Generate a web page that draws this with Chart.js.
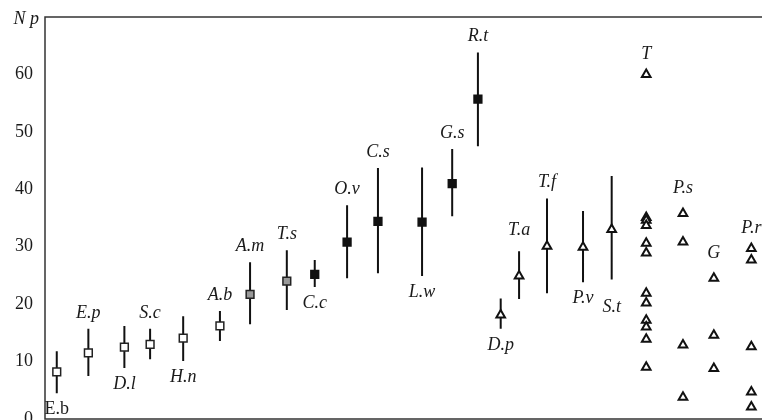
<!DOCTYPE html>
<html>
<head>
<meta charset="utf-8">
<script src="https://cdn.jsdelivr.net/npm/chart.js@4/dist/chart.umd.min.js"></script>
<style>
  html, body { margin: 0; padding: 0; background: #fff; overflow: hidden; width: 762px; height: 420px; }
  #chart { display: block; }
</style>
</head>
<body>
<canvas id="chart" width="800" height="440"></canvas>
<script>
// groups, their position along the (unlabelled) x axis
const groups = ['E.b', 'E.p', 'D.l', 'S.c', 'H.n', 'A.b', 'A.m', 'T.s', 'C.c', 'O.v',
  'C.s', 'L.w', 'G.s', 'R.t', 'D.p', 'T.a', 'T.f', 'P.v', 'S.t', 'T', 'P.s', 'G', 'P.r'];
const groupPos = [1.6, 5.9, 10.8, 14.3, 18.8, 23.8, 27.9, 32.9, 36.7, 41.1,
  45.3, 51.3, 55.4, 58.9, 62.0, 64.5, 68.3, 73.2, 77.1, 81.8, 86.8, 91.0, 96.1];

// mean and range for the first 19 groups
const meanNp = [8.2, 11.5, 12.5, 13.0, 14.1, 16.2, 21.7, 24.0, 25.2, 30.8,
  34.4, 34.3, 41.0, 55.7, 18.1, 24.9, 30.1, 29.9, 33.0];
const lowNp = [4.5, 7.5, 8.9, 10.4, 10.1, 13.6, 16.5, 19.0, 23.0, 24.5,
  25.4, 24.9, 35.3, 47.5, 15.7, 20.9, 21.9, 23.8, 24.3];
const highNp = [11.8, 15.7, 16.2, 15.7, 17.9, 18.8, 27.3, 29.4, 27.7, 37.2,
  43.7, 43.8, 47.0, 63.8, 21.0, 29.2, 38.4, 36.2, 42.3];

// single values for the last four groups
const tNp = [60, 35.1, 34.6, 33.7, 30.6, 28.9, 21.9, 20.2, 17.2, 16.0, 13.9, 9.0];
const psNp = [35.8, 30.8, 12.9, 3.8];
const gNp = [24.5, 14.6, 8.8];
const prNp = [29.7, 27.7, 12.6, 4.7, 2.1];

const yTicks = [0, 10, 20, 30, 40, 50, 60];

// styles
const openSquare = ['E.b', 'E.p', 'D.l', 'S.c', 'H.n', 'A.b'];
const greySquare = ['A.m', 'T.s'];
const blackSquare = ['C.c', 'O.v', 'C.s', 'L.w', 'G.s', 'R.t'];
const labelBelow = ['E.b', 'D.l', 'H.n', 'C.c', 'L.w', 'D.p', 'P.v', 'S.t'];
const labelUpright = ['E.b'];
const labelNudge = { 'S.t': 12, 'T.a': 5, 'G': 5, 'P.s': 5 };
const serif = '"Liberation Serif", "DejaVu Serif", serif';

const scatterCols = { 'T': tNp, 'P.s': psNp, 'G': gNp, 'P.r': prNp };

function pointsFor(names) {
  return names.map((n) => {
    const i = groups.indexOf(n);
    return { x: groupPos[i], y: meanNp[i] };
  });
}

const errorData = [];
meanNp.forEach((m, i) => {
  errorData.push({ x: groupPos[i], y: lowNp[i] });
  errorData.push({ x: groupPos[i], y: highNp[i] });
  errorData.push({ x: groupPos[i], y: null });
});

const triMeanNames = groups.slice(14, 19);
const triPoints = pointsFor(triMeanNames);
Object.keys(scatterCols).forEach((n) => {
  const i = groups.indexOf(n);
  scatterCols[n].forEach((v) => triPoints.push({ x: groupPos[i], y: v }));
});

function groupTop(i) {
  const n = groups[i];
  if (scatterCols[n]) return Math.max(...scatterCols[n]);
  return highNp[i];
}
function groupBottom(i) {
  const n = groups[i];
  if (scatterCols[n]) return Math.min(...scatterCols[n]);
  return lowNp[i];
}

const frameAndLabels = {
  id: 'frameAndLabels',
  afterDatasetsDraw(chart) {
    const { ctx, chartArea: a, scales: { x, y } } = chart;
    ctx.save();
    ctx.strokeStyle = '#333';
    ctx.lineWidth = 1.5;
    ctx.strokeRect(a.left, a.top, a.right - a.left, a.bottom - a.top);

    ctx.fillStyle = '#1a1a1a';
    ctx.textAlign = 'center';
    ctx.textBaseline = 'middle';
    groups.forEach((n, i) => {
      const px = x.getPixelForValue(groupPos[i]);
      const extra = (labelNudge[n] || 0) + (scatterCols[n] ? 4 : 0);
      let py;
      if (labelBelow.includes(n)) py = y.getPixelForValue(groupBottom(i)) + 16 + extra;
      else py = y.getPixelForValue(groupTop(i)) - 16 - extra;
      ctx.font = (labelUpright.includes(n) ? '' : 'italic ') + '18px ' + serif;
      ctx.fillText(n, px, py);
    });

    ctx.font = 'italic 18px ' + serif;
    ctx.textAlign = 'right';
    ctx.fillText('N p', a.left - 6, a.top + 2);
    ctx.restore();
  },
};

new Chart(document.getElementById('chart'), {
  type: 'scatter',
  data: {
    datasets: [
      {
        data: pointsFor(openSquare), pointStyle: 'rect', pointRadius: 5.5,
        backgroundColor: '#fff', borderColor: '#222', borderWidth: 1.5, order: 1,
      },
      {
        data: pointsFor(greySquare), pointStyle: 'rect', pointRadius: 5.5,
        backgroundColor: '#999', borderColor: '#222', borderWidth: 1.5, order: 1,
      },
      {
        data: pointsFor(blackSquare), pointStyle: 'rect', pointRadius: 5.5,
        backgroundColor: '#111', borderColor: '#111', borderWidth: 1.5, order: 1,
      },
      {
        data: triPoints, pointStyle: 'triangle', pointRadius: 5,
        backgroundColor: '#fff', borderColor: '#111', borderWidth: 2, order: 1,
      },
      {
        type: 'line', data: errorData, showLine: true, spanGaps: false,
        pointRadius: 0, borderColor: '#111', borderWidth: 2, order: 2,
      },
    ],
  },
  options: {
    responsive: false,
    animation: false,
    events: [],
    layout: { padding: { top: 17, bottom: 21, right: 20, left: 0 } },
    plugins: { legend: { display: false }, tooltip: { enabled: false } },
    scales: {
      x: { type: 'linear', display: false, min: 0, max: 100 },
      y: {
        min: 0,
        max: 70,
        afterFit: (s) => { s.width = 45; },
        afterBuildTicks: (s) => { s.ticks = yTicks.map((v) => ({ value: v })); },
        grid: { display: false },
        border: { display: false },
        ticks: { color: '#1a1a1a', padding: 4, font: { family: serif, size: 18 } },
      },
    },
  },
  plugins: [frameAndLabels],
});
</script>
</body>
</html>
